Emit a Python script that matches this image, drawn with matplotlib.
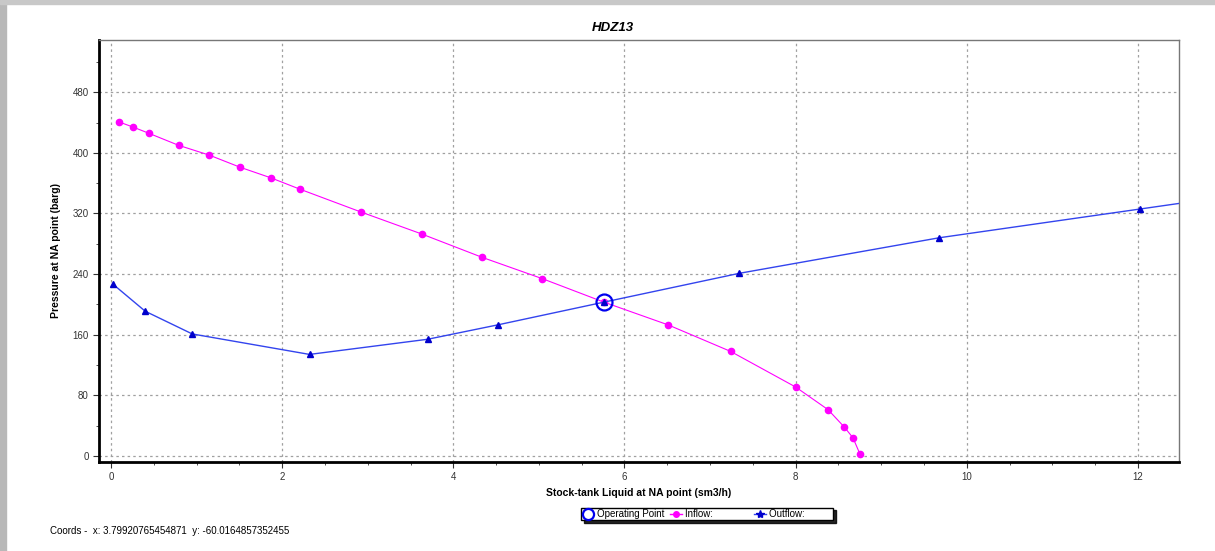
import matplotlib
matplotlib.use("Agg")
import matplotlib.pyplot as plt
from matplotlib.lines import Line2D
from matplotlib.patches import Rectangle
from matplotlib.ticker import MultipleLocator

# ── data ────────────────────────────────────────────────────────
inflow_q = [0.09, 0.26, 0.44, 0.79, 1.15, 1.51, 1.87, 2.21, 2.92, 3.63, 4.34,
            5.04, 5.76, 6.51, 7.24, 8.00, 8.38, 8.57, 8.67, 8.75]
inflow_p = [441, 434, 426, 410, 397, 381, 367, 352, 322, 293, 262,
            234, 203, 173, 138, 91, 61, 38, 24, 3]

outflow_q = [0.02, 0.40, 0.95, 2.32, 3.70, 4.52, 5.76, 7.34, 9.68, 12.03, 14.5]
outflow_p = [227, 191, 161, 134, 154, 173, 203, 241, 288, 326, 366]

op_q = [5.76]
op_p = [203]

TITLE = "HDZ13"
XLABEL = "Stock-tank Liquid at NA point (sm3/h)"
YLABEL = "Pressure at NA point (barg)"
COORDS = "Coords -  x: 3.79920765454871  y: -60.0164857352455"

MAGENTA = "#FF00FF"
BLUE = "#0000CC"
LINEBLUE = "#3344EE"

plt.rcParams["font.family"] = ["Liberation Sans", "DejaVu Sans"]

fig = plt.figure(figsize=(12.15, 5.51), dpi=100)
ax = fig.add_axes([99 / 1215, 1 - 462 / 551, 1080 / 1215, 422 / 551])

ax.plot(inflow_q, inflow_p, color=MAGENTA, lw=0.8, marker="o", ms=4.5,
        mfc=MAGENTA, mec=MAGENTA, zorder=3)
ax.plot(outflow_q, outflow_p, color=LINEBLUE, lw=1.0, marker="^", ms=5,
        mfc=BLUE, mec=BLUE, zorder=3)
ax.plot(op_q, op_p, ls="none", marker="o", ms=11.5, mfc="none",
        mec="#0000EE", mew=1.6, zorder=4)

ax.set_xlim(-0.14, 12.48)
ax.set_ylim(-8, 549)
ax.xaxis.set_major_locator(MultipleLocator(2))
ax.xaxis.set_minor_locator(MultipleLocator(0.5))
ax.yaxis.set_major_locator(MultipleLocator(80))
ax.yaxis.set_minor_locator(MultipleLocator(40))
ax.tick_params(which="both", labelsize=7, colors="#333333", direction="out")
ax.tick_params(which="major", length=4)
ax.tick_params(which="minor", length=2.5)
ax.grid(which="major", color="#A0A0A0", ls=(0, (2, 2.5)), lw=0.9)

for s in ["left", "bottom"]:
    ax.spines[s].set_linewidth(2)
    ax.spines[s].set_color("black")
for s in ["top", "right"]:
    ax.spines[s].set_linewidth(1)
    ax.spines[s].set_color("#777777")

fig.text(613 / 1215, 1 - 28 / 551, TITLE, fontsize=9.5, fontweight="bold",
         style="italic", ha="center", va="center")
ax.set_xlabel(XLABEL, fontsize=7.5, fontweight="bold", labelpad=4)
ax.set_ylabel(YLABEL, fontsize=7.5, fontweight="bold", labelpad=8)

# legend
handles = [
    Line2D([], [], ls="none", marker="o", ms=8, mfc="none", mec="#0000EE", mew=1.6),
    Line2D([], [], color=MAGENTA, lw=1, marker="o", ms=4, mfc=MAGENTA, mec=MAGENTA),
    Line2D([], [], color=LINEBLUE, lw=1, marker="*", ms=6, mfc=BLUE, mec=BLUE),
]
labels = ["Operating Point", "Inflow:             ", "Outflow:          "]
leg = fig.legend(handles, labels, loc="center", bbox_to_anchor=(707 / 1215, 1 - 514 / 551),
                 ncol=3, fontsize=7, frameon=True, fancybox=False,
                 shadow={"color": "black", "alpha": 0.85},
                 handlelength=1.2, handletextpad=0.3, columnspacing=0.6,
                 borderpad=0.15, edgecolor="black")
leg.get_frame().set_linewidth(1)

fig.text(50 / 1215, 1 - 531 / 551, COORDS, fontsize=7, va="center", ha="left")

# window frame on left and top
fig.patches.append(Rectangle((0, 0), 6 / 1215, 1, transform=fig.transFigure,
                             color="#B8B8B8", zorder=0))
fig.patches.append(Rectangle((0, 1 - 4 / 551), 1, 4 / 551, transform=fig.transFigure,
                             color="#C8C8C8", zorder=0))

fig.savefig("out.png", dpi=100)
